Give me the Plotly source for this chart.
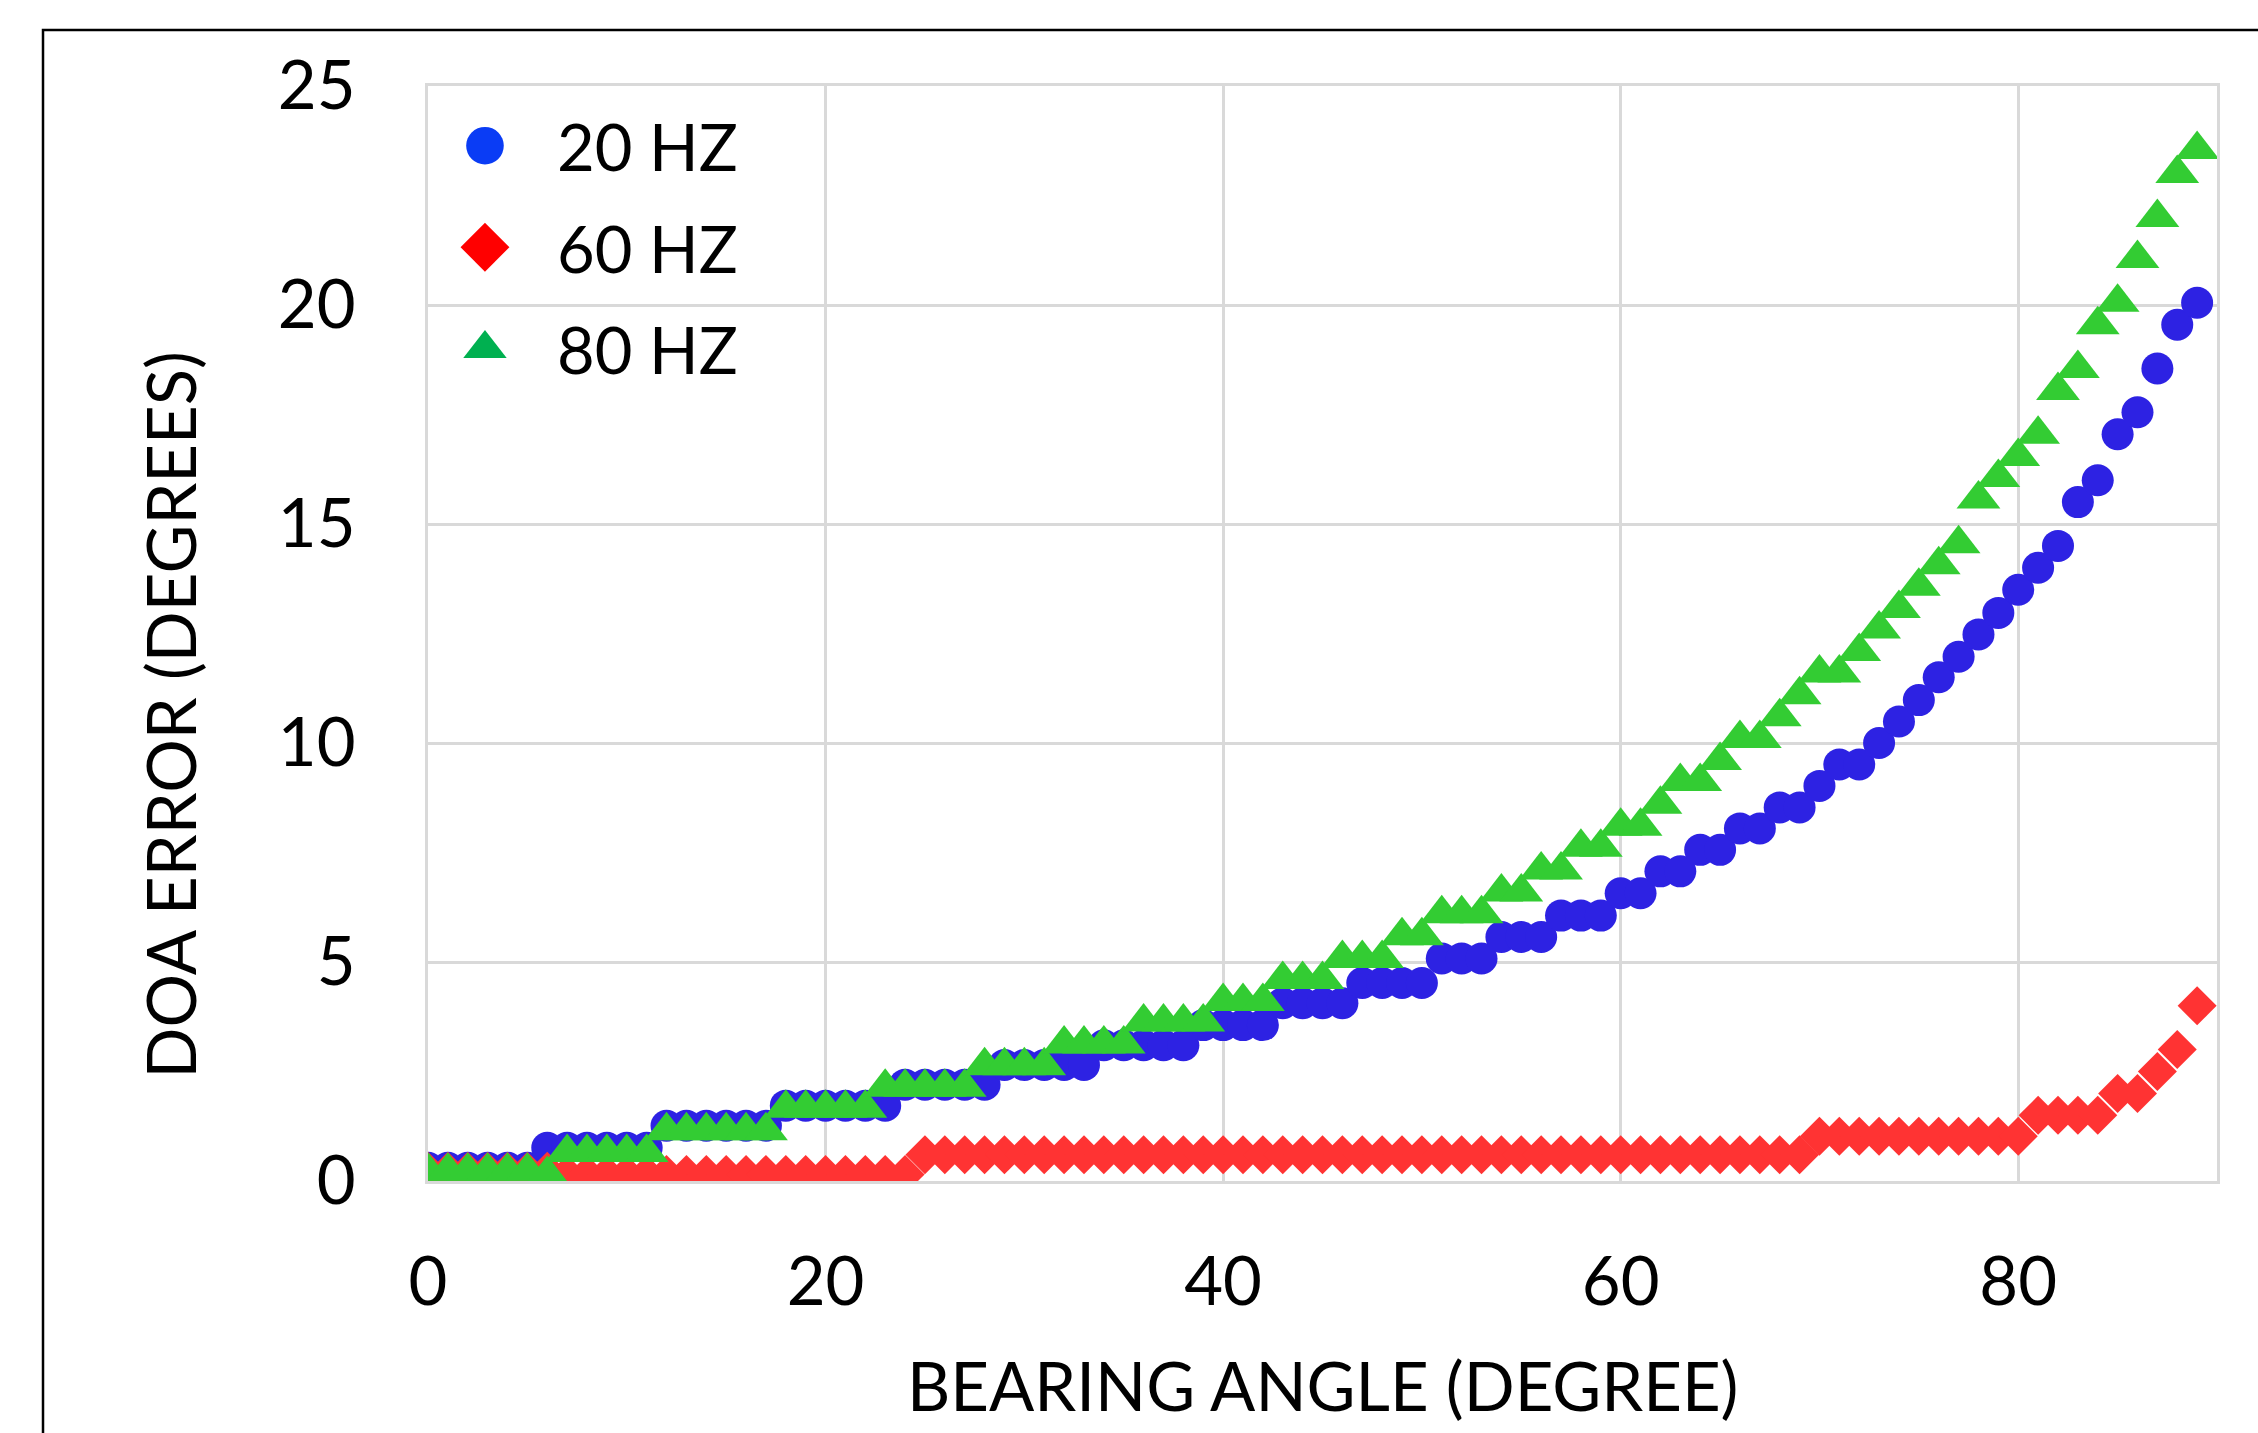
import plotly.graph_objects as go

# Bearing angle (degrees)
bearing = [0, 1, 2, 3, 4, 5, 6, 7, 8, 9, 10, 11, 12, 13, 14, 15, 16, 17, 18, 19,
           20, 21, 22, 23, 24, 25, 26, 27, 28, 29, 30, 31, 32, 33, 34, 35, 36, 37, 38, 39,
           40, 41, 42, 43, 44, 45, 46, 47, 48, 49, 50, 51, 52, 53, 54, 55, 56, 57, 58, 59,
           60, 61, 62, 63, 64, 65, 66, 67, 68, 69, 70, 71, 72, 73, 74, 75, 76, 77, 78, 79,
           80, 81, 82, 83, 84, 85, 86, 87, 88, 89]

# DOA error (degrees) - 20 Hz
err_20hz = [0.30, 0.30, 0.30, 0.30, 0.30, 0.30, 0.76, 0.76, 0.76, 0.76,
            0.76, 0.76, 1.26, 1.26, 1.26, 1.26, 1.26, 1.26, 1.72, 1.72,
            1.72, 1.72, 1.72, 1.72, 2.20, 2.20, 2.20, 2.20, 2.20, 2.65,
            2.65, 2.65, 2.65, 2.65, 3.10, 3.10, 3.10, 3.10, 3.10, 3.56,
            3.56, 3.56, 3.56, 4.06, 4.06, 4.06, 4.06, 4.52, 4.52, 4.52,
            4.52, 5.08, 5.08, 5.08, 5.57, 5.57, 5.57, 6.06, 6.06, 6.06,
            6.57, 6.57, 7.07, 7.07, 7.56, 7.56, 8.05, 8.05, 8.53, 8.53,
            9.02, 9.51, 9.51, 10.00, 10.49, 10.98, 11.50, 11.97, 12.48, 12.97,
            13.50, 14.00, 14.50, 15.50, 16.00, 17.05, 17.55, 18.55, 19.55, 20.05]

# DOA error (degrees) - 60 Hz
err_60hz = [0.22, 0.22, 0.22, 0.22, 0.22, 0.22, 0.22, 0.15, 0.15, 0.15,
            0.15, 0.15, 0.15, 0.15, 0.15, 0.15, 0.15, 0.15, 0.15, 0.15,
            0.15, 0.15, 0.15, 0.15, 0.15, 0.60, 0.60, 0.60, 0.60, 0.60,
            0.60, 0.60, 0.60, 0.60, 0.60, 0.60, 0.60, 0.60, 0.60, 0.60,
            0.60, 0.60, 0.60, 0.60, 0.60, 0.60, 0.60, 0.60, 0.60, 0.60,
            0.60, 0.60, 0.60, 0.60, 0.60, 0.60, 0.60, 0.60, 0.60, 0.60,
            0.60, 0.60, 0.60, 0.60, 0.60, 0.60, 0.60, 0.60, 0.60, 0.60,
            1.02, 1.02, 1.02, 1.02, 1.02, 1.02, 1.02, 1.02, 1.02, 1.02,
            1.02, 1.50, 1.50, 1.50, 1.50, 2.00, 2.00, 2.50, 3.00, 4.00]

# DOA error (degrees) - 80 Hz
err_80hz = [0.22, 0.22, 0.22, 0.22, 0.22, 0.22, 0.15, 0.65, 0.65, 0.65,
            0.65, 0.65, 1.15, 1.15, 1.15, 1.15, 1.15, 1.15, 1.66, 1.66,
            1.66, 1.66, 1.66, 2.14, 2.14, 2.14, 2.14, 2.14, 2.63, 2.63,
            2.63, 2.63, 3.13, 3.13, 3.13, 3.13, 3.63, 3.63, 3.63, 3.63,
            4.10, 4.10, 4.10, 4.60, 4.60, 4.60, 5.08, 5.08, 5.08, 5.60,
            5.60, 6.10, 6.10, 6.10, 6.60, 6.60, 7.10, 7.10, 7.62, 7.62,
            8.10, 8.10, 8.60, 9.12, 9.12, 9.60, 10.10, 10.10, 10.60, 11.10,
            11.60, 11.60, 12.09, 12.60, 13.07, 13.58, 14.07, 14.55, 15.57, 16.06,
            16.54, 17.05, 18.05, 18.55, 19.55, 20.06, 21.06, 22.00, 23.00, 23.55]

series_names = ["20 HZ", "60 HZ", "80 HZ"]
x_ticks = [0, 20, 40, 60, 80]
y_ticks = [0, 5, 10, 15, 20, 25]

FONT = "Lato"
FS = 67
GRID = "#d9d9d9"

fig = go.Figure()
fig.add_trace(go.Scatter(x=bearing, y=err_20hz, mode="markers", name=series_names[0],
                         legendgroup="a",
                         marker=dict(symbol="circle", size=32, color="#2D22E3",
                                     line=dict(width=0))))
fig.add_trace(go.Scatter(x=bearing, y=err_60hz, mode="markers", name=series_names[1],
                         legendgroup="b",
                         marker=dict(symbol="diamond", size=30, color="#FF3333",
                                     line=dict(width=0))))
fig.add_trace(go.Scatter(x=bearing, y=err_80hz, mode="markers", name=series_names[2],
                         legendgroup="c",
                         marker=dict(symbol="triangle-up", size=38, color="#33CC33",
                                     line=dict(width=0))))

axis_common = dict(
    showgrid=True, gridcolor=GRID, gridwidth=3,
    showline=True, linecolor=GRID, linewidth=3, mirror=True,
    zeroline=False, ticks="",
    tickfont=dict(family=FONT, size=FS, color="black"),
    fixedrange=True,
)

fig.update_layout(
    width=2258, height=1433, autosize=False,
    margin=dict(l=428, r=41, t=86, b=252),
    paper_bgcolor="white", plot_bgcolor="white",
    font=dict(family=FONT, size=FS, color="black"),
    xaxis=dict(range=[0, 90], tickvals=x_ticks, ticklabelstandoff=41, **axis_common),
    yaxis=dict(range=[0, 25], tickvals=y_ticks, ticklabelstandoff=56, **axis_common),
    showlegend=True,
    legend=dict(x=-0.0084, y=0.99, xanchor="left", yanchor="top",
                bgcolor="rgba(0,0,0,0)", borderwidth=0,
                font=dict(family=FONT, size=65, color="black"),
                itemwidth=134, tracegroupgap=14, itemclick=False, itemdoubleclick=False),
    annotations=[
        dict(text="BEARING ANGLE (DEGREE)", xref="paper", yref="paper",
             x=0.5, y=-0.186, xanchor="center", yanchor="middle", showarrow=False,
             font=dict(family=FONT, size=FS, color="black")),
        dict(text="DOA ERROR (DEGREES)", xref="paper", yref="paper",
             x=-0.1442, y=0.426, xanchor="center", yanchor="middle", showarrow=False,
             textangle=-90, font=dict(family=FONT, size=FS, color="black")),
    ],
    shapes=[
        dict(type="rect", xref="paper", yref="paper",
             x0=-0.2152, y0=-0.4, x1=1.2, y1=1.0511,
             line=dict(color="black", width=2.5), fillcolor="rgba(0,0,0,0)", layer="above"),
    ],
)

post = """
var gd = document.getElementById('{plot_id}');
var legendColors = ['#0A3CF5', '#FF0000', '#00B050'];
var groups = gd.querySelectorAll('.legend .traces');
groups.forEach(function(g, i){
  var pts = g.querySelectorAll('.legendpoints path.scatterpts');
  pts.forEach(function(p){
    var t = p.getAttribute('transform') || '';
    p.setAttribute('transform', t + ' scale(2.35)');
    if (i < legendColors.length) { p.style.fill = legendColors[i]; }
  });
});
"""

fig.write_html("out.html", post_script=post)
